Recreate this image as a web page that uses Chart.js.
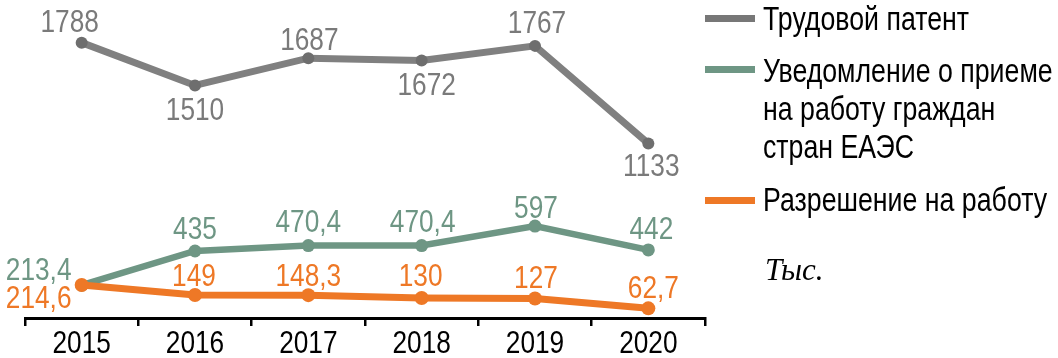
<!DOCTYPE html>
<html><head><meta charset="utf-8">
<script src="https://cdn.jsdelivr.net/npm/chart.js@4.4.1/dist/chart.umd.min.js"></script>
<style>
html,body{margin:0;padding:0;background:#fff;}
#wrap{position:relative;width:1058px;height:358px;overflow:hidden;}
canvas{position:absolute;left:0;top:0;}
.lg{position:absolute;font-family:"Liberation Sans",Arial,sans-serif;font-size:33px;color:#000;white-space:nowrap;line-height:38px;transform:scaleX(0.81);transform-origin:0 0;}
.sw{position:absolute;left:705px;width:50px;height:7px;}
#unit{position:absolute;left:765px;top:252px;font-family:"Liberation Serif","DejaVu Serif",serif;font-style:italic;font-size:31px;color:#000;}
</style></head>
<body><div id="wrap"><canvas id="c" width="1058" height="358"></canvas>
<div class="sw" style="top:15px;background:#777777"></div>
<div class="lg" style="left:763px;top:0px">Трудовой патент</div>
<div class="sw" style="top:66px;background:#6e9684"></div>
<div class="lg" style="left:763px;top:52px">Уведомление о приеме<br>на работу граждан<br>стран ЕАЭС</div>
<div class="sw" style="top:197px;background:#ee7826"></div>
<div class="lg" style="left:763px;top:181px">Разрешение на работу</div>
<div id="unit">Тыс.</div>
</div>
<script>
const years = ['2015','2016','2017','2018','2019','2020'];
const seriesNames = ['Трудовой патент','Уведомление о приеме на работу граждан стран ЕАЭС','Разрешение на работу'];
const patent = [1788, 1510, 1687, 1672, 1767, 1133];
const notice = [213.4, 435, 470.4, 470.4, 597, 442];
const permit = [214.6, 149, 148.3, 130, 127, 62.7];

// label offsets (label centre relative to point)
const patentOff = [[-12,-22],[0,23],[1,-20],[5,23],[2,-24],[3,21]];
const noticeOff = [[-43,-17],[0,-24],[0,-25],[1,-25],[1,-20],[3,-22]];
const permitOff = [[-43,12],[-1,-21],[0,-21],[-1,-23],[1,-22],[5,-22]];

const FONT = '"Liberation Sans",Arial,sans-serif';
const SX = 0.82;
const fmt = v => String(v).replace('.', ',');

function narrowText(ctx, txt, cx, baseY){
  ctx.save();
  ctx.translate(cx, baseY);
  ctx.scale(SX, 1);
  ctx.fillText(txt, 0, 0);
  ctx.restore();
}

const labelPlugin = {
  id:'vlabels',
  afterDatasetsDraw(chart){
    const ctx = chart.ctx;
    ctx.save();
    ctx.font = '32px ' + FONT;
    ctx.textAlign = 'center';
    ctx.textBaseline = 'alphabetic';
    chart.data.datasets.forEach((ds, di) => {
      const meta = chart.getDatasetMeta(di);
      meta.data.forEach((pt, i) => {
        const o = ds.labelOffsets[i];
        ctx.fillStyle = ds.labelColor;
        narrowText(ctx, fmt(ds.data[i]), pt.x + o[0], pt.y + o[1] + 11.5);
      });
    });
    // x tick labels
    const xs = chart.scales.x;
    ctx.fillStyle = '#000';
    chart.data.labels.forEach((lab, i) => {
      narrowText(ctx, lab, xs.getPixelForValue(i), 353);
    });
    ctx.restore();
  }
};

new Chart(document.getElementById('c'), {
  type:'line',
  data:{
    labels: years,
    datasets:[
      {label:seriesNames[0], order:0, data:patent, borderColor:'#808080', backgroundColor:'#6e6e6e', pointBackgroundColor:'#6e6e6e', pointBorderWidth:0, borderWidth:7, pointRadius:6, labelOffsets:patentOff, labelColor:'#7a7a7a'},
      {label:seriesNames[1], order:2, data:notice, borderColor:'#6e9684', backgroundColor:'#6e9684', pointBackgroundColor:'#6e9684', pointBorderWidth:0, borderWidth:6.5, pointRadius:6.5, labelOffsets:noticeOff, labelColor:'#6e9684'},
      {label:seriesNames[2], order:1, data:permit, borderColor:'#ee7826', backgroundColor:'#ee7826', pointBackgroundColor:'#ee7826', pointBorderWidth:0, borderWidth:7, pointRadius:7, labelOffsets:permitOff, labelColor:'#ee7826'}
    ]
  },
  options:{
    responsive:false,
    animation:false,
    clip:false,
    layout:{padding:{left:25,right:353,top:10,bottom:0}},
    plugins:{legend:{display:false}, tooltip:{enabled:false}},
    scales:{
      y:{display:false, min:0, max:2000},
      x:{
        offset:true,
        grid:{display:true, offset:true, drawOnChartArea:false, drawTicks:true, tickLength:8, color:'#000', lineWidth:2.5},
        border:{display:true, color:'#000', width:3},
        ticks:{display:false},
        afterFit(s){ s.height = 40; }
      }
    }
  },
  plugins:[labelPlugin]
});
</script></body></html>
